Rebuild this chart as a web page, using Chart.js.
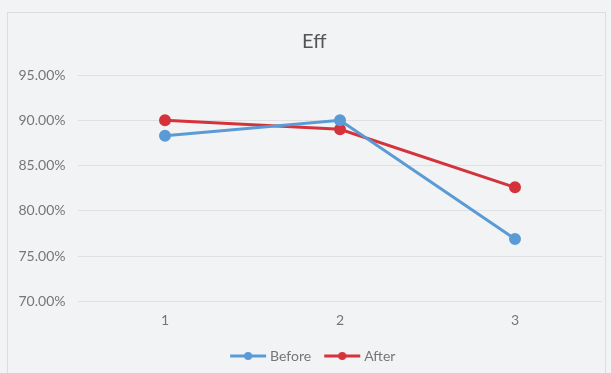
<!DOCTYPE html>
<html>
<head>
<meta charset="utf-8">
<script src="https://cdn.jsdelivr.net/npm/chart.js@4"></script>
<style>
  html, body { margin: 0; padding: 0; background: #f2f3f5; }
  #wrap { width: 611px; height: 373px; }
</style>
</head>
<body>
<div id="wrap"><canvas id="c" width="611" height="373"></canvas></div>
<script>
// Efficiency per run, before and after the change
const categories = ['1', '2', '3'];
const beforeValues = [0.883, 0.900, 0.769];
const afterValues = [0.900, 0.890, 0.826];
const yMin = 0.70;
const yMax = 0.95;
const yStep = 0.05;

const BLUE = '#5b9bd5';
const RED = '#d5333b';
const TEXT = '#767676';
const FONT = 'Lato, "Open Sans", sans-serif';

// Legend swatch: short line with a dot in the middle
function swatch(color) {
  const c = document.createElement('canvas');
  c.width = 38; c.height = 10;
  const g = c.getContext('2d');
  g.strokeStyle = color; g.lineWidth = 3;
  g.beginPath(); g.moveTo(1, 5); g.lineTo(37, 5); g.stroke();
  g.fillStyle = color;
  g.beginPath(); g.arc(19, 5, 4, 0, Math.PI * 2); g.fill();
  return c;
}

// Paper background and thin chart-area frame
const frame = {
  id: 'frame',
  beforeDraw(chart) {
    const ctx = chart.ctx;
    ctx.save();
    ctx.fillStyle = '#f2f3f5';
    ctx.fillRect(0, 0, chart.width, chart.height);
    ctx.strokeStyle = '#dcdde1';
    ctx.lineWidth = 1;
    ctx.strokeRect(7.5, 12.5, 598, 370);
    ctx.restore();
  }
};

// Centre title and legend over the plot region rather than the full canvas
const centreOverPlot = {
  id: 'centreOverPlot',
  afterLayout(chart) {
    const shift = 26;
    [chart.titleBlock, chart.legend].forEach(b => {
      if (b) { b.left += shift; b.width -= shift; }
    });
  }
};

new Chart(document.getElementById('c'), {
  type: 'line',
  data: {
    labels: categories,
    datasets: [
      {
        label: 'Before', data: beforeValues,
        borderColor: BLUE, backgroundColor: BLUE,
        borderWidth: 3, pointRadius: 4.5, pointHoverRadius: 4.5,
        pointStyle: 'circle', tension: 0
      },
      {
        label: 'After', data: afterValues,
        borderColor: RED, backgroundColor: RED,
        borderWidth: 3, pointRadius: 4.5, pointHoverRadius: 4.5,
        pointStyle: 'circle', tension: 0
      }
    ]
  },
  options: {
    responsive: false,
    animation: false,
    devicePixelRatio: 1,
    layout: { padding: { left: 0, right: 8.5, top: 0, bottom: 0 } },
    scales: {
      x: {
        offset: true,
        grid: { display: false, drawTicks: false },
        border: { display: false },
        ticks: { color: TEXT, font: { family: FONT, size: 14 }, padding: 11 },
        afterFit(s) { s.height = 31.5; }
      },
      y: {
        min: yMin, max: yMax,
        grid: { color: '#dfe0e3', lineWidth: 1, drawTicks: false },
        border: { display: false },
        ticks: {
          stepSize: yStep,
          color: TEXT, font: { family: FONT, size: 14 }, padding: 12,
          callback: v => (v * 100).toFixed(2) + '%'
        },
        afterFit(s) { s.width = 77.5; }
      }
    },
    plugins: {
      title: {
        display: true, text: 'Eff', color: '#555555',
        font: { family: FONT, size: 20, weight: 'normal' },
        padding: { top: 30, bottom: 21 }
      },
      legend: {
        position: 'bottom',
        labels: {
          color: TEXT, font: { family: FONT, size: 14 },
          usePointStyle: true, pointStyleWidth: 30, padding: 16,
          generateLabels(chart) {
            return chart.data.datasets.map((ds, i) => ({
              text: ds.label, fontColor: TEXT,
              pointStyle: swatch(ds.borderColor),
              fillStyle: ds.borderColor, strokeStyle: ds.borderColor,
              lineWidth: 0, hidden: false, datasetIndex: i
            }));
          }
        }
      },
      tooltip: { enabled: false }
    }
  },
  plugins: [frame, centreOverPlot]
});
</script>
</body>
</html>
